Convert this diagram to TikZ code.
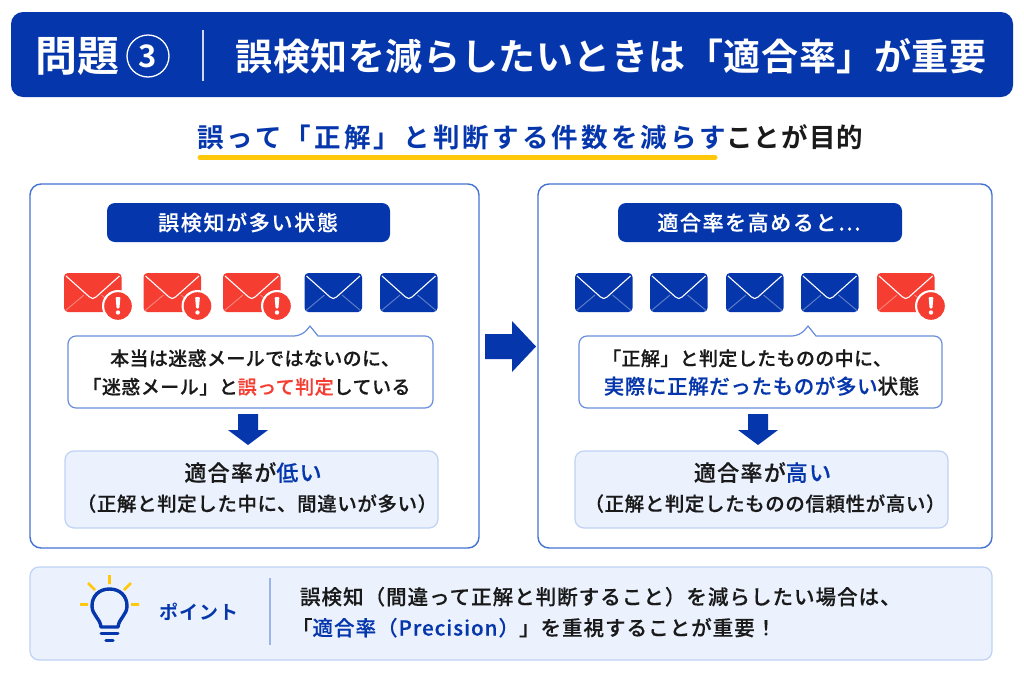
\documentclass[tikz,border=0pt]{standalone}
\usepackage{fontspec}
\setmainfont{Noto Sans CJK JP}
\newcommand\tfont[2]{\fontspec{Noto Sans CJK JP Medium}[LetterSpace=#2,FakeBold=0.35]\fontsize{#1}{#1}\selectfont}
\newcommand\bfont[2]{\fontspec{Noto Sans CJK JP Bold}[LetterSpace=#2]\fontsize{#1}{#1}\selectfont}
\definecolor{navy}{HTML}{0536AB}
\definecolor{ink}{HTML}{1A1A1A}
\definecolor{alert}{HTML}{F63D32}
\definecolor{edge}{HTML}{4472D4}
\definecolor{soft}{HTML}{EBF2FD}
\definecolor{softedge}{HTML}{BFD2F4}
\definecolor{gold}{HTML}{FFC80A}
\tikzset{
 x=1pt,y=-1pt,
 lbl/.style={anchor=base,inner sep=0pt,outer sep=0pt},
 panel/.style={draw=edge,line width=1.4pt,fill=white,rounded corners=11pt},
 softbox/.style={draw=softedge,line width=1.2pt,fill=soft,rounded corners=9pt},
 pill/.style={fill=navy,rounded corners=8pt},
 callout/.style={draw=edge!80!white,line width=1.2pt,fill=white,line join=round},
}
\newcommand\mailicon[3]{%
 \begin{scope}[shift={(#1,273)}]
  \fill[#2,rounded corners=4pt] (0,0) rectangle (57.5,39);
  \draw[white,opacity=.35,line width=1pt] (1.5,37.5) -- (20,22) (56,37.5) -- (37.5,22);
  \draw[white,line width=1.1pt,line join=round] (2,3) -- (25.5,24) .. controls (28,26) and (29.5,26) .. (32,24) -- (55.5,3);
  \ifnum#3=1
   \fill[white] (54,33) circle (16);
   \fill[#2] (54,33) circle (13.8);
   \fill[white,rounded corners=1pt] (51.6,24) -- (56.4,24) -- (55.4,35.5) -- (52.6,35.5) -- cycle;
   \fill[white] (54,39.5) circle (2.2);
  \fi
 \end{scope}}
\begin{document}
\begin{tikzpicture}
\useasboundingbox (0,0) rectangle (1024,683);
\fill[white] (0,0) rectangle (1024,683);
\fill[navy,rounded corners=12pt] (11,12) rectangle (1013,97);
\node[lbl,text=white] (qlabel) at (77.5,71) {\bfont{42}{0}問題};
\draw[white,line width=1.3pt] (148,56) circle (21);
\node[lbl,text=white] (qnum) at (148,67) {\bfont{31}{0}3};
\draw[white!80!navy,line width=1.2pt] (203,30) -- (203,81);
\node[lbl,text=white] (title) at (611,70) {\bfont{37}{1.5}誤検知を減らしたいときは「適合率」が重要};
\node[lbl,text=navy,anchor=base west] (leadA) at (197,147) {\bfont{26.5}{12}誤って「正解」と判断する件数を減らす};
\node[lbl,text=ink,anchor=base west] (leadB) at (726,147) {\bfont{26.5}{4.5}ことが目的};
\draw[gold,line width=5pt,line cap=round] (200,157.5) -- (715,157.5);
\draw[panel] (30,184) rectangle (479,548);
\draw[panel] (538,184) rectangle (992,548);
\fill[pill] (107,203) rectangle (390,242);
\fill[pill] (618,203) rectangle (902,242);
\node[lbl,text=white] (pillL) at (248,230.5) {\tfont{21}{8}誤検知が多い状態};
\node[lbl,text=white] (pillR) at (759,230.5) {\tfont{21}{7.5}適合率を高めると⋯};
\mailicon{64}{alert}{1}
\mailicon{143.5}{alert}{1}
\mailicon{223}{alert}{1}
\mailicon{304.5}{navy}{0}
\mailicon{380}{navy}{0}
\mailicon{575}{navy}{0}
\mailicon{650}{navy}{0}
\mailicon{726}{navy}{0}
\mailicon{801}{navy}{0}
\mailicon{877}{alert}{1}
\draw[callout,rounded corners=8pt] (68,336) -- (302,336) [sharp corners] -- (310,326) -- (318,336) [rounded corners=8pt] -- (433,336) -- (433,408) -- (68,408) -- cycle;
\draw[callout,rounded corners=8pt] (579,336) -- (800,336) [sharp corners] -- (808,326) -- (816,336) [rounded corners=8pt] -- (942,336) -- (942,408) -- (579,408) -- cycle;
\node[lbl,text=ink] (cl1) at (255,365.5) {\tfont{19}{2}本当は迷惑メールではないのに、};
\node[lbl,text=ink] (cl2) at (246.5,394) {\tfont{19}{2.5}「迷惑メール」と\textcolor{alert}{誤って判定}している};
\node[lbl,text=ink] (cr1) at (747,365.5) {\tfont{19}{2}「正解」と判定したものの中に、};
\node[lbl,text=ink] (cr2) at (761.5,394) {\tfont{20.5}{3}\textcolor{navy}{実際に正解だったものが多い}状態};
\fill[navy] (238,414) -- (258,414) -- (258,430) -- (268,430) -- (248,445) -- (228,430) -- (238,430) -- cycle;
\fill[navy] (748,414) -- (768,414) -- (768,430) -- (778,430) -- (758,445) -- (738,430) -- (748,430) -- cycle;
\draw[softbox] (65,451) rectangle (438,528);
\draw[softbox] (575,451) rectangle (948,528);
\node[lbl,text=ink] (rl) at (253,481) {\tfont{22}{6}適合率が\textcolor{navy}{低い}};
\node[lbl,text=ink] (rl2) at (257,511) {\tfont{19.5}{3}（正解と判定した中に、間違いが多い）};
\node[lbl,text=ink] (rr) at (762.5,481) {\tfont{22}{6}適合率が\textcolor{navy}{高い}};
\node[lbl,text=ink] (rr2) at (765,511) {\tfont{19.5}{3}（正解と判定したものの信頼性が高い）};
\fill[navy] (485,334) -- (512,334) -- (512,321) -- (536,346.5) -- (512,372) -- (512,359) -- (485,359) -- cycle;
\draw[softbox] (30,567) rectangle (992,660);
\draw[softedge!70!edge,line width=1.2pt] (270,578) -- (270,645);
\draw[gold,line width=2.6pt] (109.5,575) -- (109.5,584) (88,583) -- (95,590) (131,583) -- (124,590) (80,604.5) -- (88,604.5) (131,604.5) -- (139,604.5);
\draw[navy,line width=3.4pt,line join=round] (101,627) .. controls (100,618) and (92,615) .. (92,606) .. controls (92,596) and (99,589) .. (109.5,589) .. controls (120,589) and (127,596) .. (127,606) .. controls (127,615) and (119,618) .. (118,627) -- cycle;
\draw[navy,line width=3pt,line cap=round] (101,633.5) -- (118,633.5);
\draw[navy,line width=3.4pt,line cap=round] (106,640.5) -- (113,640.5);
\node[lbl,text=navy] (pt) at (199,619) {\bfont{19}{5}ポイント};
\node[lbl,text=ink,anchor=base west] (n1) at (300,604.5) {\tfont{20.5}{5}誤検知（間違って正解と判断すること）を減らしたい場合は、};
\node[lbl,text=ink,anchor=base west] (n2) at (292,635.5) {\tfont{20.5}{5}「\textcolor{navy}{適合率（Precision）}」を重視することが重要！};
\end{tikzpicture}
\end{document}
